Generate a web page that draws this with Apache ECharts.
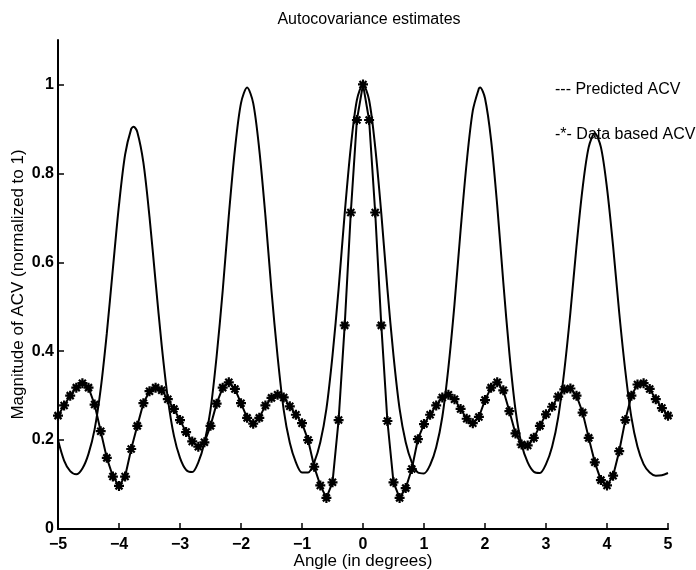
<!DOCTYPE html>
<html>
<head>
<meta charset="utf-8">
<script src="https://cdn.jsdelivr.net/npm/echarts@6/dist/echarts.min.js"></script>
<style>
html,body{margin:0;padding:0;background:#fff;}
#chart{width:696px;height:570px;}
</style>
</head>
<body>
<div id="chart"></div>
<script>
const titleText = 'Autocovariance estimates';
const xName = 'Angle (in degrees)';
const yName = 'Magnitude of ACV (normalized to 1)';
const seriesNames = ['Predicted ACV', 'Data based ACV'];
const legendPrefixes = ['--- ', '-*- '];
const xTicks = [-5, -4, -3, -2, -1, 0, 1, 2, 3, 4, 5];
const yTicks = [0, 0.2, 0.4, 0.6, 0.8, 1];

// Predicted ACV (solid line)
const predX = [-5.0,-4.9,-4.8,-4.7,-4.6,-4.5,-4.4,-4.3,-4.2,-4.1,-4.0,-3.9,-3.8,-3.76,-3.7,-3.6,-3.5,-3.4,-3.3,-3.2,-3.1,
  -3.0,-2.9,-2.8,-2.7,-2.6,-2.5,-2.4,-2.3,-2.2,-2.1,-2.0,-1.9,-1.8,-1.7,-1.6,-1.5,-1.4,-1.3,-1.2,-1.1,
  -1.0,-0.9,-0.8,-0.7,-0.6,-0.5,-0.4,-0.3,-0.2,-0.1,0.0,0.1,0.2,0.3,0.4,0.5,0.6,0.7,0.8,0.9,
  1.0,1.1,1.2,1.3,1.4,1.5,1.6,1.7,1.8,1.9,1.92,2.0,2.1,2.2,2.3,2.4,2.5,2.6,2.7,2.8,2.9,
  3.0,3.1,3.2,3.3,3.4,3.5,3.6,3.7,3.8,3.9,4.0,4.1,4.2,4.3,4.4,4.5,4.6,4.7,4.8,4.9,5.0];
const predY = [0.200,0.154,0.130,0.123,0.136,0.169,0.224,0.315,0.440,0.586,0.729,0.842,0.900,0.905,0.893,0.824,0.702,0.556,0.413,0.294,0.210,
  0.160,0.133,0.128,0.150,0.194,0.268,0.388,0.536,0.705,0.853,0.958,0.993,0.958,0.853,0.705,0.536,0.388,0.268,0.194,0.150,
  0.127,0.127,0.150,0.195,0.270,0.390,0.540,0.710,0.859,0.965,1.000,0.965,0.859,0.710,0.540,0.390,0.270,0.195,0.150,0.127,
  0.125,0.144,0.184,0.252,0.363,0.506,0.672,0.825,0.941,0.991,0.993,0.969,0.875,0.728,0.555,0.395,0.268,0.190,0.150,0.129,0.126,
  0.146,0.185,0.251,0.356,0.487,0.636,0.767,0.859,0.890,0.859,0.767,0.636,0.487,0.356,0.251,0.185,0.146,0.127,0.120,0.121,0.126];

// Data based ACV (line with asterisks)
const dataX = [-5.0,-4.9,-4.8,-4.7,-4.6,-4.5,-4.4,-4.3,-4.2,-4.1,-4.0,-3.9,-3.8,-3.7,-3.6,-3.5,-3.4,-3.3,-3.2,-3.1,
  -3.0,-2.9,-2.8,-2.7,-2.6,-2.5,-2.4,-2.3,-2.2,-2.1,-2.0,-1.9,-1.8,-1.7,-1.6,-1.5,-1.4,-1.3,-1.2,-1.1,
  -1.0,-0.9,-0.8,-0.7,-0.6,-0.5,-0.4,-0.3,-0.2,-0.1,0.0,0.1,0.2,0.3,0.4,0.5,0.6,0.7,0.8,0.9,
  1.0,1.1,1.2,1.3,1.4,1.5,1.6,1.7,1.8,1.9,2.0,2.1,2.2,2.3,2.4,2.5,2.6,2.7,2.8,2.9,
  3.0,3.1,3.2,3.3,3.4,3.5,3.6,3.7,3.8,3.9,4.0,4.1,4.2,4.3,4.4,4.5,4.6,4.7,4.8,4.9,5.0];
const dataY = [0.255,0.278,0.300,0.318,0.328,0.318,0.280,0.220,0.160,0.118,0.097,0.118,0.180,0.232,0.283,0.310,0.318,0.312,0.292,0.270,
  0.245,0.218,0.197,0.185,0.195,0.232,0.282,0.318,0.330,0.315,0.283,0.250,0.237,0.250,0.278,0.295,0.302,0.296,0.276,0.257,
  0.238,0.200,0.140,0.098,0.070,0.105,0.245,0.458,0.712,0.920,1.000,0.920,0.712,0.458,0.243,0.105,0.070,0.092,0.135,0.202,
  0.236,0.257,0.278,0.296,0.302,0.292,0.270,0.248,0.238,0.252,0.290,0.318,0.330,0.312,0.265,0.215,0.190,0.188,0.205,0.232,
  0.258,0.275,0.298,0.314,0.316,0.300,0.262,0.205,0.150,0.110,0.098,0.120,0.175,0.245,0.300,0.325,0.328,0.315,0.292,0.272,0.255];

const FONT = '"Liberation Sans", Arial, Helvetica, sans-serif';
const asterisk = 'path://M0,-10L0,10M-10,0L10,0M-7,-7L7,7M-7,7L7,-7';

const chart = echarts.init(document.getElementById('chart'), null, {renderer: 'canvas'});
chart.setOption({
  backgroundColor: '#fff',
  animation: false,
  title: {
    text: titleText,
    left: 364, top: 7, textAlign: 'center',
    textStyle: {fontFamily: FONT, fontSize: 16, fontWeight: 'normal', color: '#000'}
  },
  legend: {
    orient: 'vertical',
    left: 545, top: 77,
    itemGap: 29,
    itemWidth: 0, itemHeight: 16,
    icon: 'none',
    data: seriesNames,
    formatter: function (n) { return legendPrefixes[seriesNames.indexOf(n)] + n; },
    textStyle: {fontFamily: FONT, fontSize: 16, color: '#000', padding: 0}
  },
  grid: {left: 58, right: 28, top: 40, bottom: 41, containLabel: false, outerBoundsMode: 'none'},
  xAxis: {
    type: 'value', min: -5, max: 5, interval: 1,
    name: xName, nameLocation: 'middle', nameGap: 24, nameMoveOverlap: false,
    nameTextStyle: {fontFamily: FONT, fontSize: 17, color: '#000'},
    axisLine: {show: true, onZero: false, lineStyle: {color: '#000', width: 2}},
    axisTick: {show: true, inside: true, length: 6, customValues: xTicks, lineStyle: {color: '#000', width: 1.5}},
    axisLabel: {
      margin: 8, fontFamily: FONT, fontSize: 16, fontWeight: 'bold', color: '#000',
      customValues: xTicks,
      formatter: function (v) { return v < 0 ? '\u2212' + String(-v) : String(v); }
    },
    splitLine: {show: false}
  },
  yAxis: {
    type: 'value', min: 0, max: 1.1, interval: 0.2,
    name: yName, nameLocation: 'middle', nameGap: 31, nameRotate: 90, nameMoveOverlap: false,
    nameTextStyle: {fontFamily: FONT, fontSize: 17, color: '#000'},
    axisLine: {show: true, onZero: false, lineStyle: {color: '#000', width: 2}},
    axisTick: {show: true, inside: true, length: 6, customValues: yTicks, lineStyle: {color: '#000', width: 1.5}},
    axisLabel: {
      margin: 4, fontFamily: FONT, fontSize: 16, fontWeight: 'bold', color: '#000',
      customValues: yTicks,
      formatter: function (v) { return String(Math.round(v * 10) / 10); }
    },
    splitLine: {show: false}
  },
  series: [
    {
      name: seriesNames[0], type: 'line',
      data: predX.map((x, i) => [x, predY[i]]),
      smooth: 0.3, showSymbol: false, symbol: 'none',
      lineStyle: {color: '#000', width: 2},
      itemStyle: {color: '#000'},
      z: 2
    },
    {
      name: seriesNames[1], type: 'line',
      data: dataX.map((x, i) => [x, dataY[i]]),
      symbol: asterisk, symbolSize: 10, showSymbol: true, showAllSymbol: true,
      lineStyle: {color: '#000', width: 2},
      itemStyle: {color: '#000', borderColor: '#000', borderWidth: 2.2},
      z: 3
    }
  ]
});
</script>
</body>
</html>
